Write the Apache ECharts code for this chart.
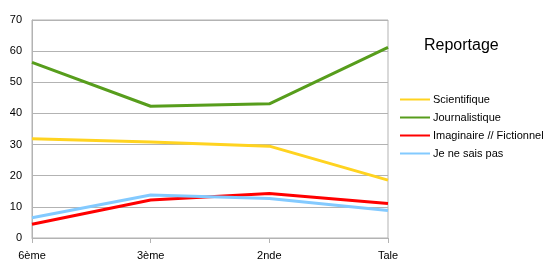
<!DOCTYPE html>
<html>
	<head>
		<meta charset="utf-8">
		<title></title>
		<script src="https://cdn.jsdelivr.net/npm/echarts@6/dist/echarts.min.js"></script>
	</head>
	<body style="margin:0">
		<div id="main" style="width: 547px;height:275px;"></div>
	</body>
	<script type="text/javascript">
		var categories = ['6ème', '3ème', '2nde', 'Tale'];
		var scientifique = [31.9, 30.8, 29.5, 18.6];
		var journalistique = [56.4, 42.3, 43.1, 61.2];
		var imaginaire = [4.4, 12.2, 14.3, 11.1];
		var neSaisPas = [6.5, 13.8, 12.7, 8.8];

		var names = ['Scientifique', 'Journalistique', 'Imaginaire // Fictionnel', 'Je ne sais pas'];
		var colors = ['#ffd320', '#579d1c', '#ff0000', '#83caff'];
		var values = [scientifique, journalistique, imaginaire, neSaisPas];

		var myChart = echarts.init(document.getElementById('main'));
		myChart.setOption({
			animation: false,
			textStyle: { fontFamily: 'Liberation Sans, Arial, sans-serif' },
			title: {
				text: 'Reportage',
				left: 419,
				top: 33,
				textStyle: { fontSize: 16, fontWeight: 'normal', color: '#000' }
			},
			legend: {
				orient: 'vertical',
				left: 395,
				top: 88,
				icon: 'rect',
				itemWidth: 30,
				itemHeight: 2,
				itemGap: 5,
				textStyle: { fontSize: 11, color: '#000', lineHeight: 13, padding: [0, 0, 0, -2] },
				data: names
			},
			grid: { left: 32, right: 159, top: 20, bottom: 37, show: true, borderColor: '#b3b3b3', borderWidth: 1 },
			xAxis: {
				type: 'category',
				data: categories,
				boundaryGap: false,
				axisLine: { lineStyle: { color: '#b3b3b3' } },
				axisTick: { show: true, length: 5, lineStyle: { color: '#b3b3b3' } },
				axisLabel: { color: '#000', fontSize: 11, margin: 12 }
			},
			yAxis: {
				type: 'value',
				min: 0,
				max: 70,
				interval: 10,
				axisLine: { show: true, lineStyle: { color: '#b3b3b3' } },
				axisTick: { show: false },
				splitLine: { lineStyle: { color: '#b3b3b3' } },
				axisLabel: { color: '#000', fontSize: 11, margin: 10 }
			},
			series: names.map(function(n, i) {
				return {
					name: n,
					type: 'line',
					data: values[i],
					symbol: 'none',
					color: colors[i],
					lineStyle: { width: 3, color: colors[i] }
				};
			})
		});
	</script>
</html>
